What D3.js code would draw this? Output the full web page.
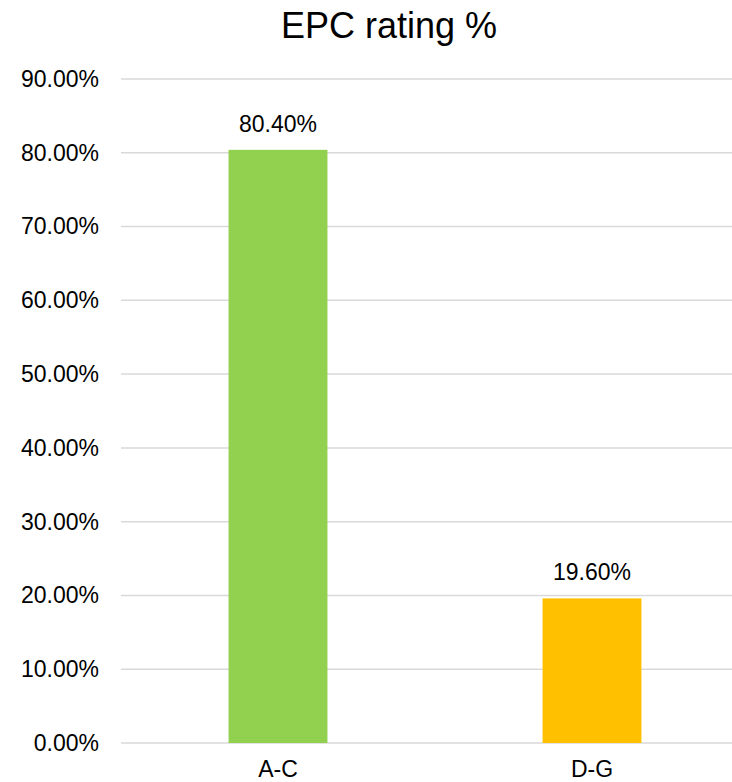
<!DOCTYPE html>
<html>
<head>
<meta charset="utf-8">
<script src="https://cdn.jsdelivr.net/npm/d3@7"></script>
<style>
  body { margin: 0; background: #fff; }
  text { font-family: "Liberation Sans", Arial, sans-serif; fill: #000; }
</style>
</head>
<body>
<script>
'use strict';

const categories = ["A-C", "D-G"];
const values = [80.4, 19.6];
const barColors = ["#92D050", "#FFC000"];
const yTicks = [0, 10, 20, 30, 40, 50, 60, 70, 80, 90];

(function() {
  const width = 732, height = 782;

  let svg = d3.select('body')
    .append('svg')
    .attr('width', width)
    .attr('height', height);

  let x = d3.scaleBand()
    .domain(categories)
    .range([121, 749])
    .paddingInner(0.685)
    .paddingOuter(0.3425);

  let y = d3.scaleLinear()
    .domain([0, 90])
    .range([743, 79]);

  // gridlines
  svg.append('g')
    .selectAll('line')
    .data(yTicks)
    .enter()
    .append('line')
      .attr('x1', 121)
      .attr('x2', width)
      .attr('y1', d => y(d))
      .attr('y2', d => y(d))
      .attr('stroke', '#D9D9D9')
      .attr('stroke-width', 1.5);

  // y axis labels
  let yAxis = d3.axisLeft(y)
    .tickValues(yTicks)
    .tickSize(0)
    .tickPadding(0)
    .tickFormat(d => d.toFixed(2) + '%');
  let gy = svg.append('g')
    .attr('transform', 'translate(99, 0)')
    .call(yAxis);
  gy.select('.domain').remove();
  gy.selectAll('text')
    .style('font-size', '23px')
    .attr('fill', '#000');

  // bars
  svg.selectAll('.bar')
    .data(values)
    .enter()
    .append('rect')
      .attr('class', 'bar')
      .attr('x', (d, i) => x(categories[i]))
      .attr('width', x.bandwidth())
      .attr('y', d => y(d))
      .attr('height', d => y(0) - y(d))
      .attr('fill', (d, i) => barColors[i]);

  // value labels
  svg.selectAll('.val')
    .data(values)
    .enter()
    .append('text')
      .attr('class', 'val')
      .attr('x', (d, i) => x(categories[i]) + x.bandwidth() / 2)
      .attr('y', d => y(d) - 18)
      .attr('text-anchor', 'middle')
      .style('font-size', '23px')
      .text(d => d.toFixed(2) + '%');

  // x axis labels
  let xAxis = d3.axisBottom(x).tickSize(0).tickPadding(0);
  let gx = svg.append('g')
    .attr('transform', 'translate(0, 743)')
    .call(xAxis);
  gx.select('.domain').remove();
  gx.selectAll('text')
    .attr('dy', null)
    .attr('y', 34)
    .style('font-size', '23px')
    .attr('fill', '#000');

  // title
  svg.append('text')
    .attr('x', 389)
    .attr('y', 38)
    .attr('text-anchor', 'middle')
    .style('font-size', '36px')
    .text('EPC rating %');
})();
</script>
</body>
</html>
